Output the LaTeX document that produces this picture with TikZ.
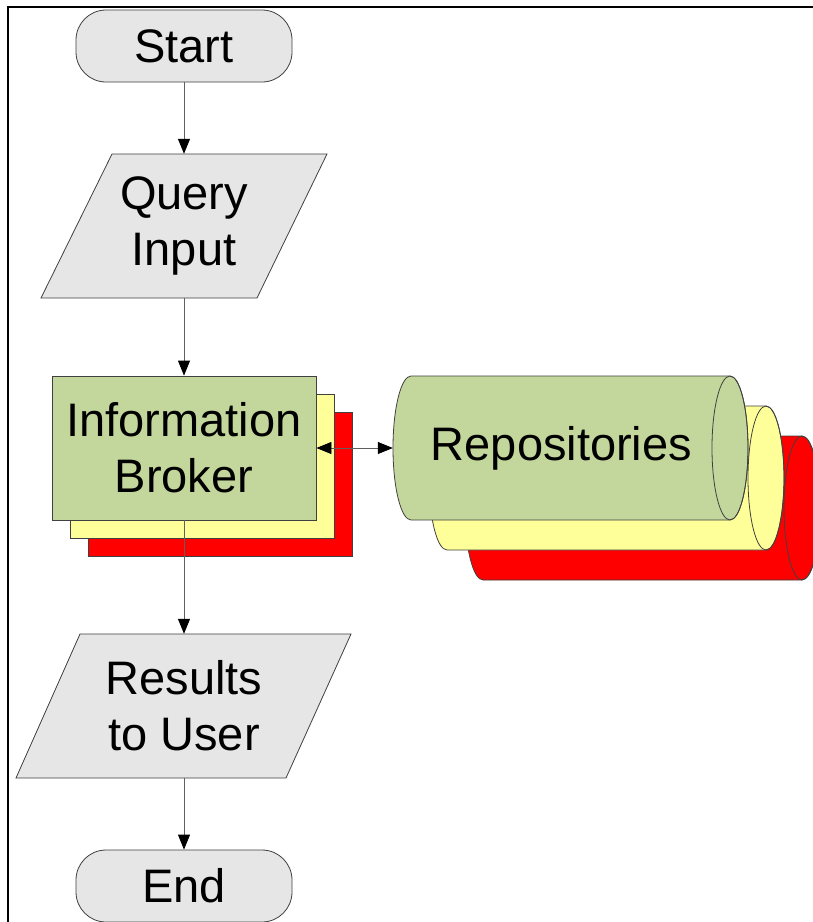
\documentclass[tikz,border=0pt]{standalone}
\usepackage{fontspec}
\setmainfont{Liberation Sans}
\usetikzlibrary{arrows.meta}
\definecolor{boxgray}{HTML}{E6E6E6}
\definecolor{boxgreen}{HTML}{C3D69B}
\definecolor{boxyellow}{HTML}{FFFF99}
\definecolor{boxred}{HTML}{FF0000}
\definecolor{edgegray}{HTML}{404040}
\definecolor{linegray}{HTML}{606060}
\tikzset{
  bigtext/.style={font=\fontsize{47}{56}\selectfont, align=center, text=black},
  terminal/.style={bigtext, draw=edgegray, line width=0.8pt, fill=boxgray, rectangle, rounded corners=30pt, minimum width=216pt, minimum height=72pt, inner sep=0pt},
  iotext/.style={bigtext, rectangle, minimum width=150pt, minimum height=144pt, inner sep=0pt},
  ioshape/.style={draw=edgegray, line width=0.8pt, fill=boxgray},
  brokerbox/.style={bigtext, draw=edgegray, line width=0.8pt, rectangle, minimum width=264pt, minimum height=144pt, inner sep=0pt},
  cylshape/.style={draw=edgegray, line width=0.8pt},
  arr/.style={draw=linegray, line width=0.8pt, -{Triangle[length=15pt,width=12pt,color=black]}},
  arrboth/.style={draw=linegray, line width=0.8pt, {Triangle[length=15pt,width=12pt,color=black]}-{Triangle[length=15pt,width=12pt,color=black]}},
}
\newcommand{\mycyl}[4]{%
  \filldraw[cylshape, fill=#4] (#1,#3+72) -- (#2,#3+72)
     arc[start angle=90, end angle=-90, x radius=18, y radius=72]
     -- (#1,#3-72)
     arc[start angle=270, end angle=90, x radius=18, y radius=72] -- cycle;
  \draw[cylshape] (#2,#3) ellipse[x radius=18, y radius=72];
}
\begin{document}
\begin{tikzpicture}[x=1pt,y=1pt]
\useasboundingbox (0,0) rectangle (813,-922);
\fill[white] (0,0) rectangle (813,-922);
% frame
\draw[line width=2.2pt, black] (8,-922) -- (8,-7);
\draw[line width=1.5pt, black] (7,-7) -- (813,-7);

% start
\node[terminal] (start) at (184,-46) {Start};

% query input
\filldraw[ioshape] (41,-298) -- (112,-154) -- (327,-154) -- (257,-298) -- cycle;
\node[iotext] (query) at (184,-226) {Query\\Input};

% broker stack
\node[brokerbox, fill=boxred] (brokerR) at (220,-484) {Information\\Broker};
\node[brokerbox, fill=boxyellow] (brokerY) at (202,-466) {Information\\Broker};
\node[brokerbox, fill=boxgreen] (broker) at (184,-448) {Information\\Broker};

% repositories stack
\mycyl{483}{802}{-508}{boxred}
\mycyl{447}{766}{-478}{boxyellow}
\mycyl{411}{730}{-448}{boxgreen}
\node[bigtext, rectangle, minimum width=355pt, minimum height=144pt, inner sep=0pt] (repo) at (570.5,-448) {Repositories\hspace*{18pt}};

% results
\filldraw[ioshape] (16,-778) -- (80,-634) -- (351,-634) -- (286,-778) -- cycle;
\node[iotext] (results) at (184,-706) {Results\\to User};

% end
\node[terminal] (stop) at (184,-886) {End};

% connectors
\draw[arr] (start.south) -- (query.north);
\draw[arr] (query.south) -- (broker.north);
\draw[arr] (broker.south) -- (results.north);
\draw[arr] (results.south) -- (stop.north);
\draw[arrboth] (broker.east) -- (repo.west);
\end{tikzpicture}
\end{document}
